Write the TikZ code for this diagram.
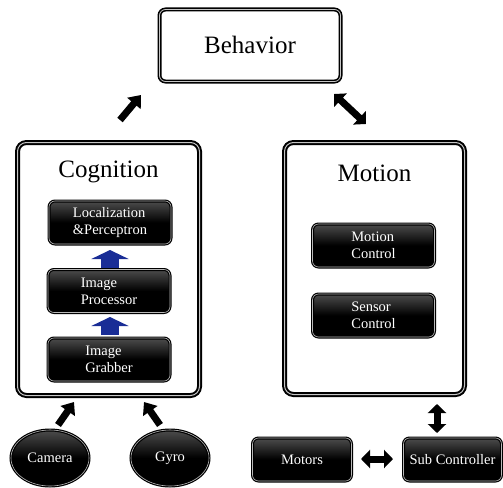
\documentclass[tikz,border=0pt]{standalone}
\usepackage{fontspec}
\setmainfont{Liberation Serif}
\usetikzlibrary{arrows.meta,shapes.geometric}
\tikzset{
  container/.style={draw=black, line width=2pt, double=gray!45, double distance=1pt,
    fill=white, rounded corners=9pt, inner sep=0pt},
  behbox/.style={draw=black, line width=1.6pt, double=gray!45, double distance=0.8pt,
    fill=white, rounded corners=6pt, inner sep=0pt},
  blackbox/.style={draw=black, line width=1.2pt, double=gray!55, double distance=0.6pt,
    top color=black!70, bottom color=black, middle color=black, rounded corners=6pt,
    text=white, align=left, inner sep=2pt, font=\fontsize{14.5}{17}\selectfont},
  blackell/.style={ellipse, draw=black, line width=1.2pt, double=gray!55, double distance=0.6pt,
    top color=black!70, bottom color=black, middle color=black,
    text=white, inner sep=0pt, minimum width=78pt, minimum height=56pt,
    font=\fontsize{14.5}{17}\selectfont},
  title/.style={font=\fontsize{25}{30}\selectfont, inner sep=0pt},
  fat/.style={draw=black, line width=7pt, -{Triangle[width=17pt,length=11pt]}},
  fatboth/.style={draw=black, line width=7pt, {Triangle[width=18pt,length=9pt]}-{Triangle[width=18pt,length=9pt]}},
  bluearr/.style={draw={rgb,255:red,25;green,45;blue,150}, line width=18pt,
    -{Triangle[width=37pt,length=9pt]}},
}
\begin{document}
\begin{tikzpicture}[x=1pt,y=-1pt]
\useasboundingbox (0,0) rectangle (503,487);
% containers
\node[behbox, minimum width=181pt, minimum height=72pt] (beh) at (250,45.5) {};
\node[title] (behT) at (250,45) {Behavior};
\node[container, minimum width=182pt, minimum height=253pt] (cog) at (108.5,269) {};
\node[title] (cogT) at (108.5,172) {Cognition};
\node[container, minimum width=180pt, minimum height=252pt] (mot) at (374.5,268.5) {};
\node[title] (motT) at (374.5,173) {Motion};
% cognition boxes
\node[blackbox, minimum width=122pt, minimum height=43pt] (loc) at (110,222.5) {Localization\\\&Perceptron};
\node[blackbox, minimum width=122pt, minimum height=43pt] (proc) at (109,291) {Image\\Processor};
\node[blackbox, minimum width=122pt, minimum height=43pt] (grab) at (109,359.5) {Image\\Grabber};
% motion boxes
\node[blackbox, minimum width=122pt, minimum height=43pt] (mc) at (373.5,245.5) {Motion\\Control};
\node[blackbox, minimum width=122pt, minimum height=43pt] (sc) at (373.5,315.5) {Sensor\\Control};
% bottom row
\node[blackell] (cam) at (50,458) {Camera};
\node[blackell] (gyro) at (170,458) {Gyro};
\node[blackbox, minimum width=99pt, minimum height=43pt, align=center] (motors) at (302,459.5) {Motors};
\node[blackbox, minimum width=98pt, minimum height=43pt, align=center, inner sep=1pt] (sub) at (452.5,459.5) {Sub Controller};
% arrow coordinates
\coordinate (a1s) at (120,120);
\coordinate (a1e) at (141,95);
\coordinate (a2s) at (334,94);
\coordinate (a2e) at (366,124);
\coordinate (a3s) at (58,425);
\coordinate (a3e) at (74,402);
\coordinate (a4s) at (160,425);
\coordinate (a4e) at (144,402);
\coordinate (a5s) at (437,404);
\coordinate (a5e) at (437,433);
\coordinate (a6s) at (361,459);
\coordinate (a6e) at (393,459);
\coordinate (b1s) at (110,268);
\coordinate (b1e) at (110,250);
\coordinate (b2s) at (110,335);
\coordinate (b2e) at (110,317);
% arrows
\draw[fat] (a1s) -- (a1e);
\draw[fatboth] (a2s) -- (a2e);
\draw[fat] (a3s) -- (a3e);
\draw[fat] (a4s) -- (a4e);
\draw[fatboth] (a5s) -- (a5e);
\draw[fatboth] (a6s) -- (a6e);
\draw[bluearr] (b1s) -- (b1e);
\draw[bluearr] (b2s) -- (b2e);
\end{tikzpicture}
\end{document}
